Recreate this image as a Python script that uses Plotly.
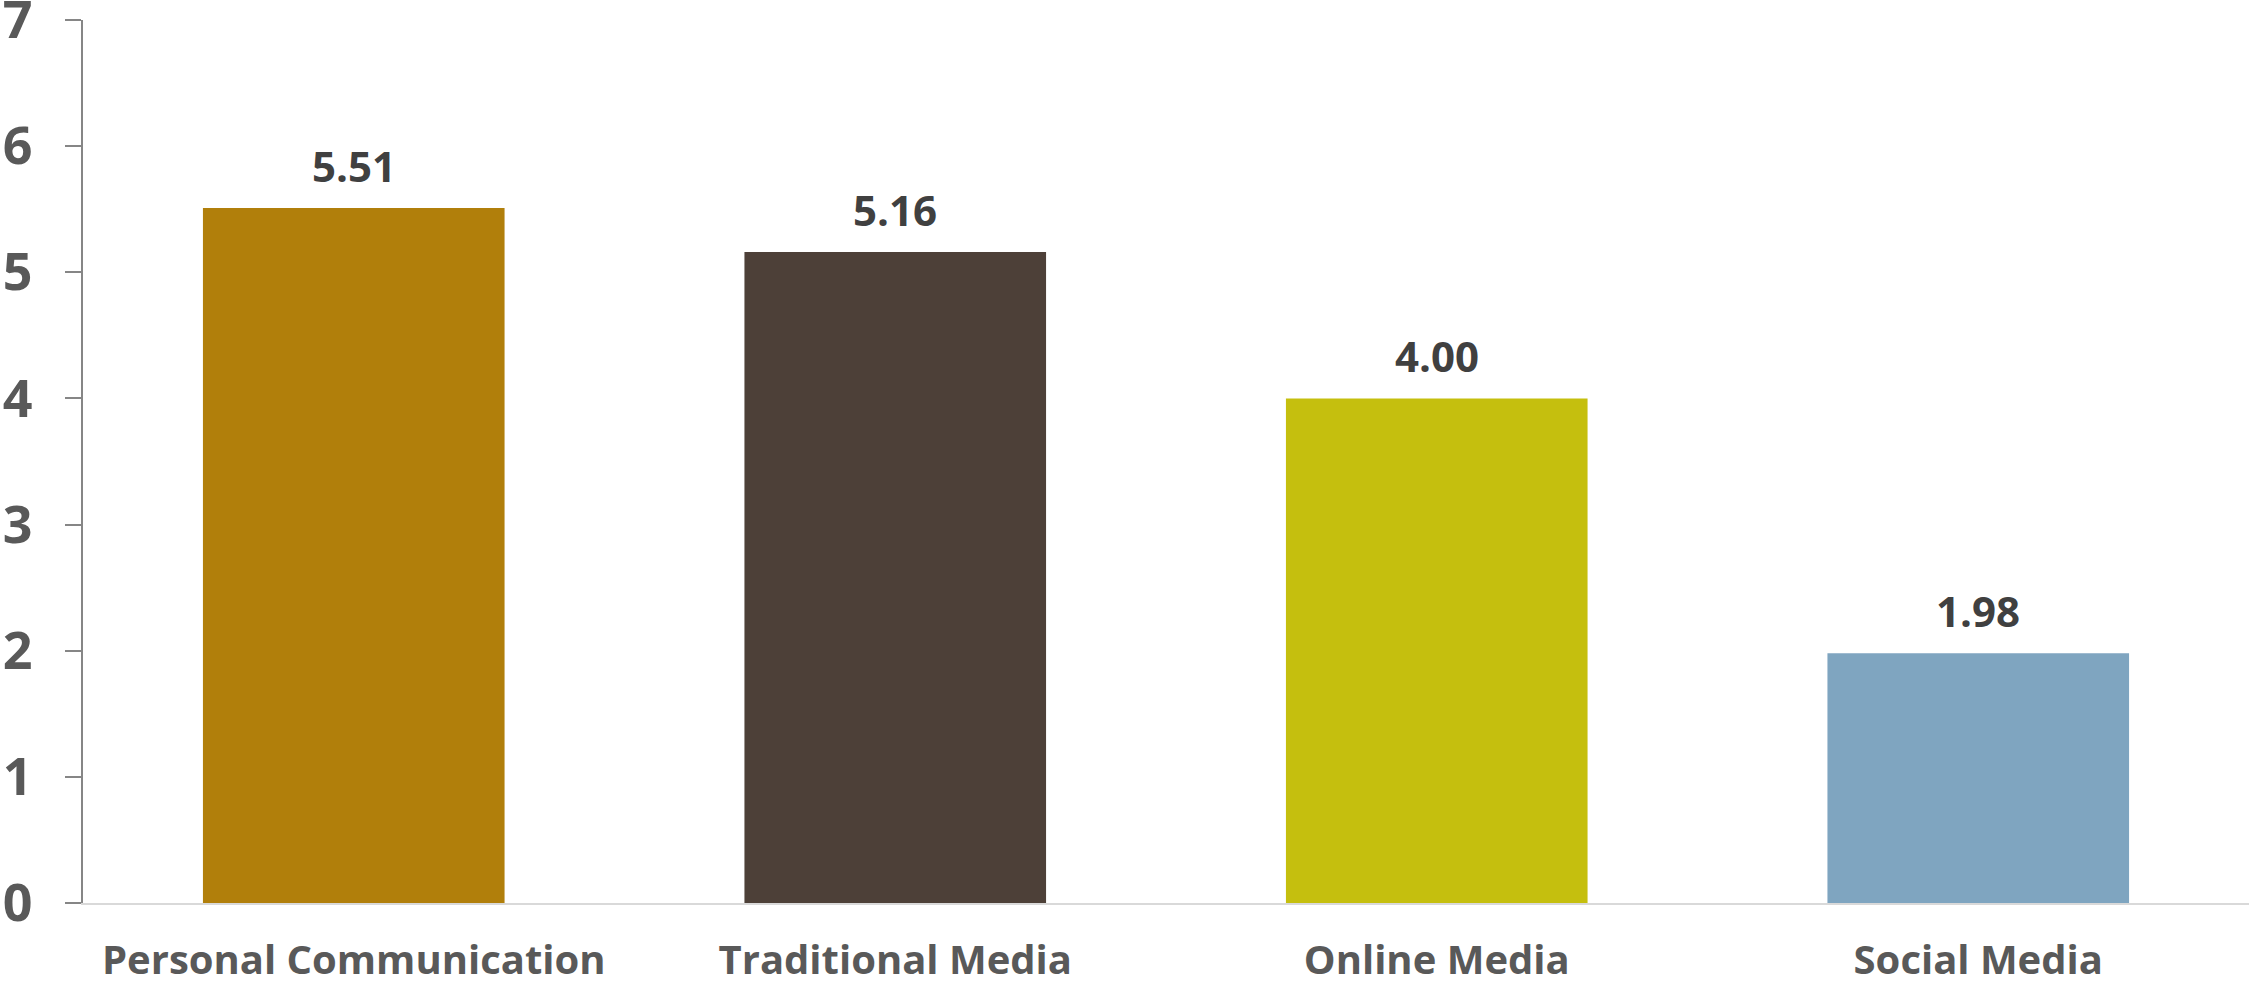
import plotly.graph_objects as go

# Average usage score by communication channel
categories = ["Personal Communication", "Traditional Media", "Online Media", "Social Media"]
scores = [5.51, 5.16, 4.00, 1.98]
bar_colors = ["#B17F0B", "#4D4038", "#C5BF0E", "#7FA5C0"]
y_ticks = [0, 1, 2, 3, 4, 5, 6, 7]

FONT = "Open Sans"

fig = go.Figure(
    go.Bar(
        x=categories,
        y=scores,
        marker=dict(color=bar_colors, line=dict(width=0)),
        width=0.557,
        hoverinfo="x+y",
    )
)

# value labels above each bar
for cat, val in zip(categories, scores):
    fig.add_annotation(
        x=cat, y=val, text=f"<b>{val:.2f}</b>",
        showarrow=False, yanchor="bottom", yshift=12,
        font=dict(family=FONT, size=42, color="#404040"),
    )

fig.update_layout(
    width=2249, height=986,
    margin=dict(l=83, r=0, t=20, b=83),
    paper_bgcolor="white", plot_bgcolor="white",
    showlegend=False,
    font=dict(family=FONT),
)

fig.update_xaxes(
    type="category",
    range=[-0.5, 3.5],
    automargin=False,
    showline=True, linecolor="#D9D9D9", linewidth=2,
    showgrid=False, ticks="",
    tickfont=dict(family=FONT, size=40, color="#595959", weight="bold"),
    ticklabelstandoff=21,
)

fig.update_yaxes(
    range=[0, 7],
    tickvals=y_ticks,
    automargin=False,
    showline=True, linecolor="#868686", linewidth=2,
    showgrid=False, zeroline=False,
    ticks="outside", ticklen=16, tickcolor="#868686", tickwidth=2,
    tickfont=dict(family=FONT, size=52, color="#595959", weight="bold"),
    ticklabelstandoff=22,
    ticklabeloverflow="allow",
)

fig.write_html("out.html")
